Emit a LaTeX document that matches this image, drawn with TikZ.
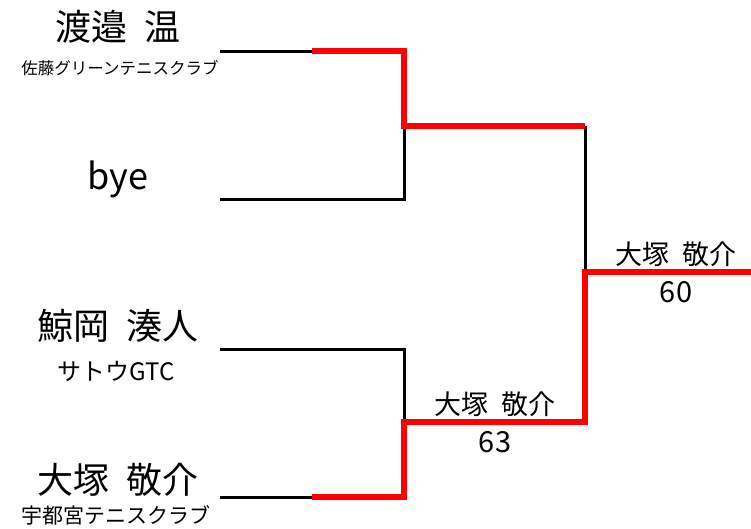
\documentclass[tikz,border=0pt]{standalone}
\usepackage{fontspec}
\setmainfont{Noto Sans CJK JP}
\begin{document}
\begin{tikzpicture}[x=1pt,y=-1pt,
  winline/.style={draw=red,line width=6pt,line join=miter},
  loseline/.style={draw=black,line width=3pt},
  bigname/.style={font=\fontsize{36}{40}\selectfont,inner sep=0pt},
  club/.style={font=\fontsize{16.5}{20}\selectfont,inner sep=0pt},
  club2/.style={font=\fontsize{21}{24}\selectfont,inner sep=0pt},
  club3/.style={font=\fontsize{24}{27}\selectfont,inner sep=0pt},
  wname/.style={font=\fontsize{27}{30}\selectfont,inner sep=0pt},
  score/.style={font=\fontsize{29}{32}\selectfont,inner sep=0pt}]
\useasboundingbox (0,0) rectangle (751,528);
% coordinates
\coordinate (a1) at (220,51);
\coordinate (a2) at (312,51);
\coordinate (j1t) at (404,51);
\coordinate (j1) at (404,126);
\coordinate (b1) at (220,199);
\coordinate (j1b) at (404,199);
\coordinate (f1) at (585,126);
\coordinate (f) at (585,272);
\coordinate (fe) at (751,272);
\coordinate (c1) at (220,349);
\coordinate (j2t) at (404,349);
\coordinate (j2) at (404,422);
\coordinate (f2) at (585,422);
\coordinate (d1) at (220,497);
\coordinate (d2) at (312,497);
\coordinate (j2b) at (404,497);
% black lines
\draw[loseline] (a1) -- (a2);
\draw[loseline] (b1) -- (j1b) -- (j1);
\draw[loseline] (f1) -- (f);
\draw[loseline] (c1) -- (j2t) -- (j2);
\draw[loseline] (d1) -- (d2);
% red lines
\draw[winline] (a2) -- (j1t) -- (j1) -- (f1);
\draw[winline] (fe) -- (f) -- (f2) -- (j2) -- (j2b) -- (d2);
% texts
\node[bigname] (n1) at (118,27) {渡邉\hspace{0.45em}温};
\node[club] (c1t) at (120,68) {佐藤グリーンテニスクラブ};
\node[bigname] (n2) at (118,179) {bye};
\node[bigname] (n3) at (118,326) {鯨岡\hspace{0.45em}湊人};
\node[club3] (c3t) at (116,371) {サトウGTC};
\node[bigname] (n4) at (118,480) {大塚\hspace{0.45em}敬介};
\node[club2] (c4t) at (116,515) {宇都宮テニスクラブ};
\node[wname] (w1) at (495,404) {大塚\hspace{0.5em}敬介};
\node[score] (s1) at (495,442) {63};
\node[wname] (w2) at (676,254) {大塚\hspace{0.5em}敬介};
\node[score] (s2) at (676,292) {60};
\end{tikzpicture}
\end{document}
